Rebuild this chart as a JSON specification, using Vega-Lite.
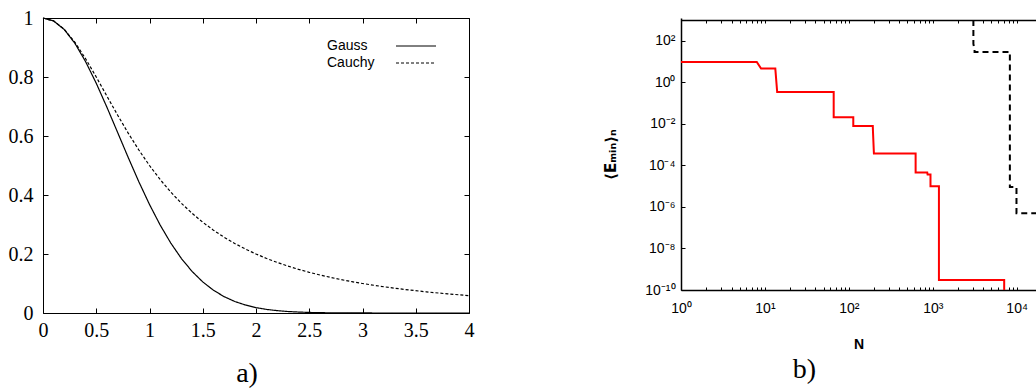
{
 "$schema": "https://vega.github.io/schema/vega-lite/v6.json",
 "background": "white",
 "padding": {"left": 5, "top": 8, "right": 0, "bottom": 0},
 "config": {"view": {"stroke": null}, "axis": {"domainColor": "black", "tickColor": "black", "labelColor": "black", "titleColor": "black", "grid": false, "labelFont": "Liberation Serif"}},
 "spacing": 129,
 "datasets": {
  "curves": [
   {"x":0,"y":1,"series":"Gauss"},{"x":0.1,"y":0.99005,"series":"Gauss"},{"x":0.2,"y":0.960789,"series":"Gauss"},{"x":0.3,"y":0.913931,"series":"Gauss"},{"x":0.4,"y":0.852144,"series":"Gauss"},{"x":0.5,"y":0.778801,"series":"Gauss"},{"x":0.6,"y":0.697676,"series":"Gauss"},{"x":0.7,"y":0.612626,"series":"Gauss"},{"x":0.8,"y":0.527292,"series":"Gauss"},{"x":0.9,"y":0.444858,"series":"Gauss"},{"x":1.0,"y":0.367879,"series":"Gauss"},{"x":1.1,"y":0.298197,"series":"Gauss"},{"x":1.2,"y":0.236928,"series":"Gauss"},{"x":1.3,"y":0.18452,"series":"Gauss"},{"x":1.4,"y":0.140858,"series":"Gauss"},{"x":1.5,"y":0.105399,"series":"Gauss"},{"x":1.6,"y":0.077305,"series":"Gauss"},{"x":1.7,"y":0.055576,"series":"Gauss"},{"x":1.8,"y":0.039164,"series":"Gauss"},{"x":1.9,"y":0.027052,"series":"Gauss"},{"x":2.0,"y":0.018316,"series":"Gauss"},{"x":2.1,"y":0.012155,"series":"Gauss"},{"x":2.2,"y":0.007907,"series":"Gauss"},{"x":2.3,"y":0.005042,"series":"Gauss"},{"x":2.4,"y":0.003151,"series":"Gauss"},{"x":2.5,"y":0.00193,"series":"Gauss"},{"x":2.6,"y":0.001159,"series":"Gauss"},{"x":2.7,"y":0.000682,"series":"Gauss"},{"x":2.8,"y":0.000394,"series":"Gauss"},{"x":2.9,"y":0.000223,"series":"Gauss"},{"x":3.0,"y":0.000123,"series":"Gauss"},{"x":3.2,"y":0.000036,"series":"Gauss"},{"x":3.4,"y":0.00001,"series":"Gauss"},{"x":3.6,"y":0,"series":"Gauss"},{"x":3.8,"y":0,"series":"Gauss"},{"x":4.0,"y":0,"series":"Gauss"},
   {"x":0,"y":1,"series":"Cauchy"},{"x":0.1,"y":0.990099,"series":"Cauchy"},{"x":0.2,"y":0.961538,"series":"Cauchy"},{"x":0.3,"y":0.917431,"series":"Cauchy"},{"x":0.4,"y":0.862069,"series":"Cauchy"},{"x":0.5,"y":0.8,"series":"Cauchy"},{"x":0.6,"y":0.735294,"series":"Cauchy"},{"x":0.7,"y":0.671141,"series":"Cauchy"},{"x":0.8,"y":0.609756,"series":"Cauchy"},{"x":0.9,"y":0.552486,"series":"Cauchy"},{"x":1.0,"y":0.5,"series":"Cauchy"},{"x":1.1,"y":0.452489,"series":"Cauchy"},{"x":1.2,"y":0.409836,"series":"Cauchy"},{"x":1.3,"y":0.371747,"series":"Cauchy"},{"x":1.4,"y":0.337838,"series":"Cauchy"},{"x":1.5,"y":0.307692,"series":"Cauchy"},{"x":1.6,"y":0.280899,"series":"Cauchy"},{"x":1.7,"y":0.257069,"series":"Cauchy"},{"x":1.8,"y":0.235849,"series":"Cauchy"},{"x":1.9,"y":0.21692,"series":"Cauchy"},{"x":2.0,"y":0.2,"series":"Cauchy"},{"x":2.1,"y":0.184843,"series":"Cauchy"},{"x":2.2,"y":0.171233,"series":"Cauchy"},{"x":2.3,"y":0.158983,"series":"Cauchy"},{"x":2.4,"y":0.147929,"series":"Cauchy"},{"x":2.5,"y":0.137931,"series":"Cauchy"},{"x":2.6,"y":0.128866,"series":"Cauchy"},{"x":2.7,"y":0.120627,"series":"Cauchy"},{"x":2.8,"y":0.113122,"series":"Cauchy"},{"x":2.9,"y":0.10627,"series":"Cauchy"},{"x":3.0,"y":0.1,"series":"Cauchy"},{"x":3.2,"y":0.088968,"series":"Cauchy"},{"x":3.4,"y":0.079618,"series":"Cauchy"},{"x":3.6,"y":0.071633,"series":"Cauchy"},{"x":3.8,"y":0.064767,"series":"Cauchy"},{"x":4.0,"y":0.058824,"series":"Cauchy"}
  ],
  "red": [
   {"i":0,"N":1,"E":9.6},{"i":1,"N":8,"E":9.6},{"i":2,"N":9,"E":4.6},{"i":3,"N":13.3,"E":4.6},{"i":4,"N":14,"E":0.34},{"i":5,"N":66,"E":0.34},{"i":6,"N":66,"E":0.021},{"i":7,"N":113,"E":0.021},{"i":8,"N":113,"E":0.0079},{"i":9,"N":193,"E":0.0079},{"i":10,"N":194,"E":0.0042},{"i":11,"N":199,"E":0.00037},{"i":12,"N":625,"E":0.00037},{"i":13,"N":625,"E":0.000045},{"i":14,"N":860,"E":0.000045},{"i":15,"N":868,"E":0.000036},{"i":16,"N":940,"E":0.000036},{"i":17,"N":940,"E":0.00001},{"i":18,"N":1185,"E":0.00001},{"i":19,"N":1185,"E":3e-10},{"i":20,"N":7100,"E":3e-10},{"i":21,"N":7100,"E":1e-10}
  ],
  "black": [
   {"i":0,"N":3050,"E":1000},{"i":1,"N":3050,"E":70},{"i":2,"N":3150,"E":40},{"i":3,"N":3150,"E":29},{"i":4,"N":8300,"E":29},{"i":5,"N":8300,"E":0.000009},{"i":6,"N":9950,"E":0.000009},{"i":7,"N":9950,"E":5e-7},{"i":8,"N":17000,"E":5e-7}
  ]
 },
 "hconcat": [
  {
   "width": 426,
   "height": 295,
   "title": {"text": "a)", "orient": "bottom", "anchor": "middle", "font": "Liberation Serif", "fontSize": 28, "fontWeight": "normal", "color": "black", "offset": 20, "dx": -9},
   "data": {"name": "curves"},
   "layer": [
    {
     "mark": {"type": "line", "strokeWidth": 1.2, "color": "black"},
     "encoding": {
      "x": {"field": "x", "type": "quantitative", "scale": {"domain": [0, 4], "nice": false},
            "axis": {"orient": "bottom", "title": null, "values": [0,0.5,1,1.5,2,2.5,3,3.5,4], "format": "~g", "tickSize": -5, "labelPadding": 12, "labelFont": "Liberation Serif", "labelFontSize": 20, "labelFlush": false, "labelOverlap": false, "domainWidth": 1}},
      "y": {"field": "y", "type": "quantitative", "scale": {"domain": [0, 1], "nice": false},
            "axis": {"orient": "left", "title": null, "values": [0,0.2,0.4,0.6,0.8,1], "format": "~g", "tickSize": -5, "labelPadding": 15, "labelFont": "Liberation Serif", "labelFontSize": 20, "labelFlush": false, "labelOverlap": false, "minExtent": 38, "maxExtent": 38, "domainWidth": 1}},
      "strokeDash": {"field": "series", "type": "nominal", "scale": {"domain": ["Gauss", "Cauchy"], "range": [[1, 0], [3, 2]]},
            "legend": {"title": null, "orient": "none", "legendX": 282, "legendY": 21, "symbolType": "M-5,0H5", "symbolSize": 64, "symbolStrokeWidth": 1, "symbolStrokeColor": "black", "labelFont": "Liberation Sans", "labelFontSize": 14, "labelColor": "black", "symbolOffset": 84, "labelOffset": -96, "padding": 0, "rowPadding": 3}}
     }
    },
    {
     "mark": {"type": "line", "opacity": 0},
     "encoding": {
      "x": {"field": "x", "type": "quantitative", "axis": {"orient": "top", "title": null, "values": [0,0.5,1,1.5,2,2.5,3,3.5,4], "labels": false, "tickSize": -5, "domainWidth": 1}},
      "y": {"field": "y", "type": "quantitative", "axis": {"orient": "right", "title": null, "values": [0,0.2,0.4,0.6,0.8,1], "labels": false, "tickSize": -5, "domainWidth": 1}}
     }
    }
   ],
   "resolve": {"axis": {"x": "independent", "y": "independent"}}
  },
  {
   "width": 355,
   "height": 272,
   "title": {"text": "b)", "orient": "bottom", "anchor": "middle", "font": "Liberation Serif", "fontSize": 28, "fontWeight": "normal", "color": "black", "offset": 5, "dx": -54},
   "layer": [
    {
     "data": {"name": "red"},
     "mark": {"type": "line", "color": "#ff0000", "strokeWidth": 2, "clip": true},
     "encoding": {
      "x": {"field": "N", "type": "quantitative", "scale": {"type": "log", "domain": [1, 17000], "nice": false},
            "axis": {"orient": "bottom", "title": "N", "titleFont": "Liberation Sans", "titleFontWeight": "bold", "titleFontSize": 14, "titlePadding": 22,
                     "values": [1,2,3,4,5,6,7,8,9,10,20,30,40,50,60,70,80,90,100,200,300,400,500,600,700,800,900,1000,2000,3000,4000,5000,6000,7000,8000,9000,10000],
                     "labelExpr": "datum.value==1?'10⁰':datum.value==10?'10¹':datum.value==100?'10²':datum.value==1000?'10³':datum.value==10000?'10⁴':''",
                     "tickSize": -3, "labelPadding": 14, "labelFont": "Liberation Sans", "labelFontSize": 14, "labelOverlap": false, "labelFlush": false, "domainWidth": 1.5}},
      "y": {"field": "E", "type": "quantitative", "scale": {"type": "log", "domain": [1e-10, 1250], "nice": false},
            "axis": {"orient": "left", "title": "⟨Eₘᵢₙ⟩ₙ", "titleFont": "DejaVu Sans", "titleFontWeight": "bold", "titleFontSize": 15, "titlePadding": 23,
                     "values": [1e-10, 1e-8, 1e-6, 1e-4, 0.01, 1, 100],
                     "labelExpr": "datum.value>10?'10²':datum.value>0.1?'10⁰':datum.value>0.001?'10⁻²':datum.value>0.00001?'10⁻⁴':datum.value>0.0000001?'10⁻⁶':datum.value>0.000000001?'10⁻⁸':'10⁻¹⁰'",
                     "tickSize": -4, "labelPadding": 10, "labelFont": "Liberation Sans", "labelFontSize": 14, "labelOverlap": false, "labelFlush": false, "minExtent": 40, "maxExtent": 40, "domainWidth": 1.5}},
      "order": {"field": "i", "type": "quantitative"}
     }
    },
    {
     "data": {"name": "black"},
     "mark": {"type": "line", "color": "black", "strokeWidth": 2, "strokeDash": [6, 4], "clip": true},
     "encoding": {
      "x": {"field": "N", "type": "quantitative",
            "axis": {"orient": "top", "title": null, "labels": false, "offset": -2, "values": [1,2,3,4,5,6,7,8,9,10,20,30,40,50,60,70,80,90,100,200,300,400,500,600,700,800,900,1000,2000,3000,4000,5000,6000,7000,8000,9000,10000], "tickSize": -3, "domainWidth": 1.5}},
      "y": {"field": "E", "type": "quantitative", "axis": null},
      "order": {"field": "i", "type": "quantitative"}
     }
    }
   ],
   "resolve": {"axis": {"x": "independent", "y": "independent"}}
  }
 ]
}
